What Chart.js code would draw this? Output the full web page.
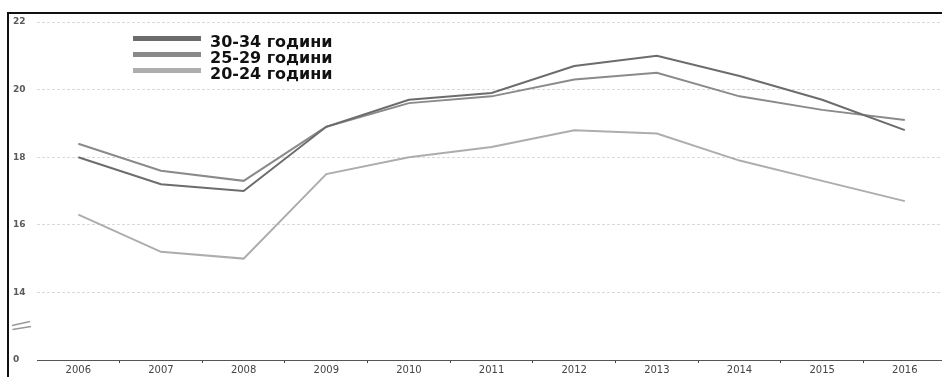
<!DOCTYPE html>
<html>
<head>
<meta charset="utf-8">
<script src="https://cdn.jsdelivr.net/npm/chart.js@4.4.1/dist/chart.umd.min.js"></script>
<style>
  html, body { margin: 0; padding: 0; background: #fff; }
  canvas { display: block; }
</style>
</head>
<body>
<canvas id="ageChart" width="942" height="377"></canvas>
<script>
const years = [2006, 2007, 2008, 2009, 2010, 2011, 2012, 2013, 2014, 2015, 2016];
const age3034 = [18.0, 17.2, 17.0, 18.9, 19.7, 19.9, 20.7, 21.0, 20.4, 19.7, 18.8];
const age2529 = [18.4, 17.6, 17.3, 18.9, 19.6, 19.8, 20.3, 20.5, 19.8, 19.4, 19.1];
const age2024 = [16.3, 15.2, 15.0, 17.5, 18.0, 18.3, 18.8, 18.7, 17.9, 17.3, 16.7];
const seriesNames = ["30-34 години", "25-29 години", "20-24 години"];
const seriesColors = ["#6c6c6c", "#8a8a8a", "#adadad"];

// axis is broken: the bottom tick stands for 0
const axisBreak = 12;
const axisLabelAtBreak = "0";

function points(values){
  return values.map((v, i) => ({ x: years[i], y: v }));
}

// frame, axis break marks and the legend block in the top left corner
const decorPlugin = {
  id: "decor",
  afterDraw(chart){
    const ctx = chart.ctx;
    ctx.save();
    ctx.strokeStyle = "#111";
    ctx.lineWidth = 2;
    ctx.beginPath();
    ctx.moveTo(8, 377);
    ctx.lineTo(8, 13);
    ctx.lineTo(942, 13);
    ctx.stroke();

    ctx.strokeStyle = "#999";
    ctx.lineWidth = 1.3;
    ctx.beginPath();
    ctx.moveTo(12, 325.5); ctx.lineTo(30, 321.5);
    ctx.moveTo(12.5, 329.5); ctx.lineTo(31, 326.5);
    ctx.stroke();

    ctx.font = "bold 16px 'DejaVu Sans'";
    ctx.textAlign = "left";
    ctx.textBaseline = "alphabetic";
    chart.data.datasets.forEach((ds, i) => {
      const y = 38.5 + i * 16;
      ctx.strokeStyle = ds.borderColor;
      ctx.lineWidth = 5;
      ctx.beginPath();
      ctx.moveTo(133, y);
      ctx.lineTo(201, y);
      ctx.stroke();
      ctx.fillStyle = "#111";
      ctx.fillText(ds.label, 210, y + 8);
    });
    ctx.restore();
  }
};

// labels on the years, small tick marks half way between them
function yearTicks(scale){
  const ticks = [];
  years.forEach((y) => {
    ticks.push({ value: y });
    if (y < years[years.length - 1]) ticks.push({ value: y + 0.5 });
  });
  scale.ticks = ticks;
}

new Chart(document.getElementById("ageChart"), {
  type: "line",
  data: {
    datasets: [
      { label: seriesNames[0], data: points(age3034), borderColor: seriesColors[0] },
      { label: seriesNames[1], data: points(age2529), borderColor: seriesColors[1] },
      { label: seriesNames[2], data: points(age2024), borderColor: seriesColors[2] }
    ]
  },
  options: {
    responsive: false,
    animation: false,
    devicePixelRatio: 1,
    layout: { padding: { left: 13, top: 22, right: 0, bottom: 0 } },
    elements: {
      line: { borderWidth: 2, tension: 0, fill: false },
      point: { radius: 0, hoverRadius: 0 }
    },
    plugins: { legend: { display: false }, tooltip: { enabled: false } },
    scales: {
      x: {
        type: "linear",
        min: years[0] - 0.5,
        max: years[years.length - 1] + 0.45,
        afterBuildTicks: yearTicks,
        afterFit: (scale) => { scale.height = 17; },
        border: { display: true, color: "#555", width: 1 },
        grid: {
          drawOnChartArea: false,
          drawTicks: true,
          tickLength: 3,
          color: (c) => (c.tick && !Number.isInteger(c.tick.value)) ? "#444" : "rgba(0,0,0,0)"
        },
        ticks: {
          autoSkip: false,
          maxRotation: 0,
          padding: 1,
          color: "#444",
          font: { family: "'DejaVu Sans'", size: 10 },
          callback: (v) => Number.isInteger(v) ? String(v) : ""
        }
      },
      y: {
        min: axisBreak,
        max: 22,
        afterFit: (scale) => { scale.width = 24; },
        border: { display: false, dash: [3, 2] },
        grid: {
          drawTicks: false,
          color: (c) => (c.tick && c.tick.value === axisBreak) ? "rgba(0,0,0,0)" : "#dadada",
          lineWidth: 1
        },
        ticks: {
          stepSize: 2,
          crossAlign: "far",
          padding: 0,
          color: "#5a5a5a",
          font: { family: "'DejaVu Sans'", size: 9, weight: "bold" },
          callback: (v) => v === axisBreak ? axisLabelAtBreak : String(v)
        }
      }
    }
  },
  plugins: [decorPlugin]
});
</script>
</body>
</html>
